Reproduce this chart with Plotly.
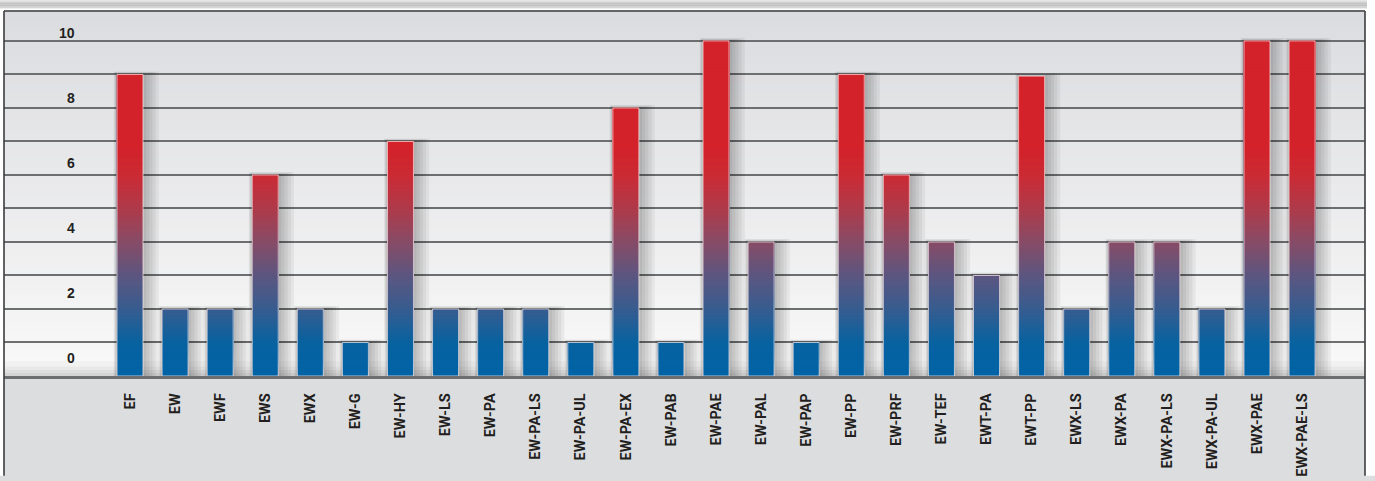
import numpy as np
import plotly.graph_objects as go

# ---------------- data ----------------
categories = ["EF", "EW", "EWF", "EWS", "EWX", "EW-G", "EW-HY", "EW-LS", "EW-PA",
              "EW-PA-LS", "EW-PA-UL", "EW-PA-EX", "EW-PAB", "EW-PAE", "EW-PAL",
              "EW-PAP", "EW-PP", "EW-PRF", "EW-TEF", "EWT-PA", "EWT-PP", "EWX-LS",
              "EWX-PA", "EWX-PA-LS", "EWX-PA-UL", "EWX-PAE", "EWX-PAE-LS"]
values = [9, 2, 2, 6, 2, 1, 7, 2, 2, 2, 1, 8, 1, 10, 4, 1, 9, 6, 4, 3, 8.95, 2,
          4, 4, 2, 10, 10]
ytick_labels = [0, 2, 4, 6, 8, 10]

# ---------------- style ----------------
W, H = 1375, 481
ML, MR, MT, MB = 4, 10, 11, 98
PW = W - ML - MR
PH = H - MT - MB
YMAX = 10.893
XR = [-2.795, 27.396]
BARW = 0.577
GRID = "#6d6e70"
TXT = "#231f20"
XFONT = "Roboto, Liberation Sans, Arial, sans-serif"
SANS = "Liberation Sans, Arial, sans-serif"
LABEL_BG = "rgb(220,221,223)"

# colour by absolute height (blue -> red)
stops = [(0.0, (0, 99, 166)), (1.0, (8, 98, 160)), (2.0, (55, 92, 143)),
         (3.0, (92, 86, 128)), (4.0, (135, 75, 102)), (5.0, (175, 58, 74)),
         (6.0, (203, 42, 52)), (6.8, (211, 34, 42)), (11.0, (211, 34, 42))]


def col_at(y):
    for (a, ca), (b, cb) in zip(stops[:-1], stops[1:]):
        if a <= y <= b:
            t = (y - a) / (b - a)
            c = [round(ca[i] + (cb[i] - ca[i]) * t) for i in range(3)]
            return "rgb(%d,%d,%d)" % tuple(c)
    return "rgb(%d,%d,%d)" % stops[-1][1]


vals = np.array(values, dtype=float)
fig = go.Figure()

# soft drop shadows
for k in range(1, 6):
    fig.add_trace(go.Bar(
        x=categories, y=vals + 0.018 * k, base=0,
        width=BARW + 0.085 * k, offset=-BARW / 2 - 0.015 * k,
        marker=dict(color="rgba(0,0,0,0.05)", line=dict(width=0)),
        hoverinfo="skip", showlegend=False))

# gradient bars built from stacked slices (each slice runs up to the bar top)
dy = 0.1
levels = np.arange(0, vals.max(), dy)
for lv in levels:
    h = np.where(vals > lv, vals - lv, 0.0)
    fig.add_trace(go.Bar(
        x=categories, y=h, base=lv, width=BARW,
        marker=dict(color=col_at(lv + dy / 2), line=dict(width=0)),
        hoverinfo="skip", showlegend=False))

# light outline on each bar
fig.add_trace(go.Bar(
    x=categories, y=vals, base=0, width=BARW,
    marker=dict(color="rgba(0,0,0,0)", line=dict(color="rgba(255,235,235,0.7)", width=1)),
    hoverinfo="skip", showlegend=False))

shapes = []
# white surroundings (top band, left and right margins)
shapes.append(dict(type="rect", xref="paper", yref="paper",
                   x0=-ML / PW - 0.01, x1=1 + MR / PW + 0.01,
                   y0=1, y1=1 + MT / PH + 0.01, layer="below",
                   line=dict(width=0), fillcolor="white"))
shapes.append(dict(type="rect", xref="paper", yref="paper",
                   x0=1, x1=1 + MR / PW + 0.01,
                   y0=-MB / PH - 0.01, y1=1.05, layer="below",
                   line=dict(width=0), fillcolor="white"))
shapes.append(dict(type="rect", xref="paper", yref="paper",
                   x0=-ML / PW - 0.01, x1=0,
                   y0=-MB / PH - 0.01, y1=1.05, layer="below",
                   line=dict(width=0), fillcolor="white"))
# plot background gradient
N = 40
for i in range(N):
    t = i / N
    c0 = np.array([249, 249, 249])
    c1 = np.array([219, 220, 223])
    c = (c0 + (c1 - c0) * (t + 0.5 / N)).round().astype(int)
    shapes.append(dict(type="rect", xref="paper", yref="paper", x0=0, x1=1,
                       y0=t, y1=t + 1.0 / N + 0.002, layer="below",
                       line=dict(width=0), fillcolor="rgb(%d,%d,%d)" % tuple(c)))
# floor shadow just above the axis
floor = [(0, 3, 212), (3, 6, 222), (6, 10, 232), (10, 15, 241)]
for a, b, g in floor:
    shapes.append(dict(type="rect", xref="paper", yref="paper", x0=0, x1=1,
                       y0=a / PH, y1=b / PH, layer="below", line=dict(width=0),
                       fillcolor="rgb(%d,%d,%d)" % (g, g, g)))
# top shadow strip above the frame
strip = [(0, 2, 222), (2, 4, 196), (4, 6, 192), (6, 8, 212), (8, 9, 238)]
for a, b, g in strip:
    shapes.append(dict(type="rect", xref="paper", yref="paper",
                       x0=-ML / PW, x1=1 + 2 / PW,
                       y0=1 + (MT - b) / PH, y1=1 + (MT - a) / PH,
                       layer="below", line=dict(width=0),
                       fillcolor="rgb(%d,%d,%d)" % (g, g, g)))
# frame
fr = dict(color="#3d3d3f", width=1.6)
shapes.append(dict(type="line", xref="paper", yref="paper", x0=0, x1=0,
                   y0=-MB / PH - 0.01, y1=1, line=fr, layer="above"))
shapes.append(dict(type="line", xref="paper", yref="paper", x0=1, x1=1,
                   y0=-MB / PH - 0.01, y1=1, line=fr, layer="above"))
shapes.append(dict(type="line", xref="paper", yref="paper", x0=0, x1=1,
                   y0=1, y1=1, line=fr, layer="above"))

# y labels (sit a little above their gridline)
annotations = []
for v in ytick_labels:
    annotations.append(dict(
        text="<b>%d</b>" % v, x=(77 - ML) / PW, xref="paper", xanchor="right",
        y=v, yref="y", yanchor="middle", yshift=8.4 + (10 - v) * 0.95,
        showarrow=False, font=dict(family=SANS, size=14, color=TXT)))

fig.update_layout(
    width=W, height=H,
    margin=dict(l=ML, r=MR, t=MT, b=MB, pad=0),
    paper_bgcolor=LABEL_BG, plot_bgcolor="rgb(236,236,237)",
    barmode="overlay", showlegend=False,
    shapes=shapes, annotations=annotations,
    xaxis=dict(type="category", categoryorder="array", categoryarray=categories,
               range=XR, tickangle=-90, ticks="", showgrid=False,
               showline=True, linecolor=GRID, linewidth=2.5,
               ticklabelstandoff=9,
               tickfont=dict(family=XFONT, size=14.5, color=TXT, weight="bold"),
               fixedrange=True),
    yaxis=dict(range=[0, YMAX], tick0=0, dtick=1, showgrid=True,
               gridcolor=GRID, gridwidth=2, zeroline=False,
               showticklabels=False, ticks="", fixedrange=True),
)

fig.write_html(
    "out.html",
    config={"displayModeBar": False, "staticPlot": True},
    post_script=("var de=document.documentElement, b=document.body;"
                 "de.style.margin='0px'; b.style.margin='0px';"
                 "de.style.padding='0px'; b.style.padding='0px';"
                 "de.style.overflow='hidden'; b.style.overflow='hidden';"),
)
